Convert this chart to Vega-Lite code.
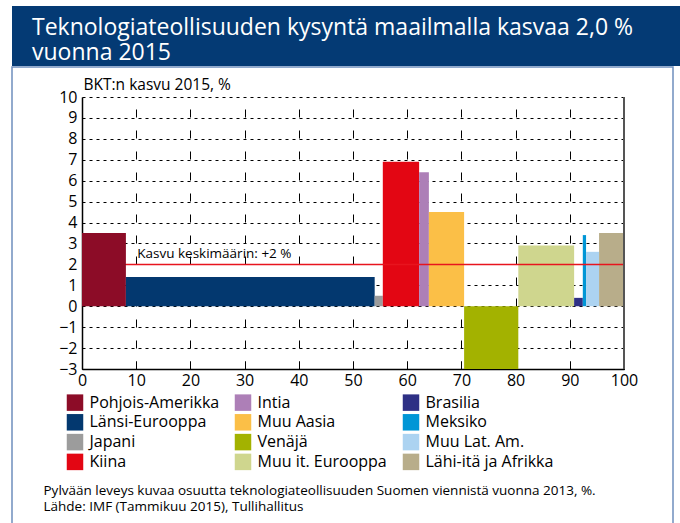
{
  "$schema": "https://vega.github.io/schema/vega-lite/v6.json",
  "padding": {"left": 11, "top": 6, "right": 0, "bottom": 0},
  "background": "white",
  "spacing": 0,
  "config": {"font": "Open Sans", "concat": {"spacing": 0}},
  "datasets": {
    "maat": [
      {"alue": "Pohjois-Amerikka", "alku": 0, "loppu": 8.1, "kasvu": 3.5},
      {"alue": "Länsi-Eurooppa", "alku": 8.1, "loppu": 54.0, "kasvu": 1.4},
      {"alue": "Japani", "alku": 54.0, "loppu": 55.5, "kasvu": 0.5},
      {"alue": "Kiina", "alku": 55.5, "loppu": 62.2, "kasvu": 6.9},
      {"alue": "Intia", "alku": 62.2, "loppu": 64.0, "kasvu": 6.4},
      {"alue": "Muu Aasia", "alku": 64.0, "loppu": 70.5, "kasvu": 4.5},
      {"alue": "Venäjä", "alku": 70.5, "loppu": 80.5, "kasvu": -3.0},
      {"alue": "Muu it. Eurooppa", "alku": 80.5, "loppu": 90.8, "kasvu": 2.9},
      {"alue": "Brasilia", "alku": 90.8, "loppu": 92.4, "kasvu": 0.4},
      {"alue": "Meksiko", "alku": 92.4, "loppu": 93.0, "kasvu": 3.4},
      {"alue": "Muu Lat. Am.", "alku": 93.0, "loppu": 95.4, "kasvu": 2.6},
      {"alue": "Lähi-itä ja Afrikka", "alku": 95.4, "loppu": 100, "kasvu": 3.5}
    ]
  },
  "vconcat": [
    {
      "width": 669,
      "height": 60,
      "view": {"fill": "#043a74", "stroke": null},
      "title": {
        "text": ["Teknologiateollisuuden kysyntä maailmalla kasvaa 2,0 %", "vuonna 2015"],
        "orient": "bottom",
        "anchor": "start",
        "frame": "group",
        "offset": -49,
        "dx": 20,
        "color": "white",
        "fontSize": 23,
        "fontWeight": "normal",
        "lineHeight": 25,
        "font": "Open Sans"
      },
      "data": {"values": []},
      "mark": "point"
    },
    {
      "width": 661,
      "height": 457,
      "view": {"stroke": "#6f8fbd", "strokeWidth": 1.5, "fill": "white"},
      "layer": [
        {
          "data": {"name": "maat"},
          "mark": {"type": "rect"},
          "encoding": {
            "x": {
              "field": "alku",
              "type": "quantitative",
              "scale": {"domain": [0, 100], "range": [70, 612], "nice": false, "zero": false},
              "axis": {
                "orient": "top",
                "offset": -302,
                "tickCount": 10,
                "labelExpr": "datum.value % 10 === 0 ? datum.label : ''",
                "labelFontSize": 16,
                "labelColor": "black",
                "labelPadding": -11,
                "labelBaseline": "top",
                "labelFlush": false,
                "labelOverlap": false,
                "ticks": true,
                "tickSize": 8,
                "tickColor": "black",
                "tickWidth": 1,
                "domain": true,
                "domainColor": "black",
                "domainWidth": 1.5,
                "grid": true,
                "gridWidth": 1,
                "gridDash": [8, 13],
                "gridColor": "black",
                "title": ["Pylvään leveys kuvaa osuutta teknologiateollisuuden Suomen viennistä vuonna 2013, %.", "Lähde: IMF (Tammikuu 2015), Tullihallitus"],
                "titleX": 31,
                "titleY": 114,
                "titleAlign": "left",
                "titleBaseline": "top",
                "titleAnchor": "start",
                "titleFontSize": 13.5,
                "titleFontWeight": "normal",
                "titleColor": "black",
                "titleLineHeight": 16
              }
            },
            "x2": {"field": "loppu"},
            "y": {
              "field": "kasvu",
              "type": "quantitative",
              "scale": {"domain": [-3, 10], "range": [302, 30], "nice": false, "zero": false},
              "axis": {
                "orient": "left",
                "offset": -70,
                "tickCount": 13,
                "labelFontSize": 16,
                "labelColor": "black",
                "labelPadding": 5,
                "labelFlush": false,
                "labelOverlap": false,
                "ticks": false,
                "domain": true,
                "domainColor": "black",
                "domainWidth": 1.5,
                "grid": true,
                "gridColor": "black",
                "gridWidth": 1,
                "gridDash": [3, 4],
                "title": "BKT:n kasvu 2015, %",
                "titleAngle": 0,
                "titleX": 1,
                "titleY": 22,
                "titleAlign": "left",
                "titleBaseline": "alphabetic",
                "titleFontSize": 15.5,
                "titleFontWeight": "normal",
                "titleColor": "black"
              }
            },
            "y2": {"datum": 0},
            "color": {
              "field": "alue",
              "type": "nominal",
              "scale": {
                "domain": ["Pohjois-Amerikka", "Länsi-Eurooppa", "Japani", "Kiina", "Intia", "Muu Aasia", "Venäjä", "Muu it. Eurooppa", "Brasilia", "Meksiko", "Muu Lat. Am.", "Lähi-itä ja Afrikka"],
                "range": ["#8c0c27", "#03386f", "#9c9c9c", "#e30613", "#ad7fb7", "#fbbf47", "#a3b200", "#cfd68e", "#2e3085", "#0096d6", "#acd3f1", "#b8ad8a"]
              },
              "legend": {
                "orient": "none",
                "legendX": 54.5,
                "legendY": 388,
                "columns": 3,
                "title": null,
                "symbolType": "square",
                "symbolSize": 272,
                "symbolStrokeWidth": 0,
                "symbolOpacity": 1,
                "labelFontSize": 16,
                "labelColor": "black",
                "labelOffset": 6,
                "rowPadding": 2.8,
                "columnPadding": 15,
                "labelLimit": 300
              }
            }
          }
        },
        {
          "data": {"values": [{}]},
          "mark": {"type": "rule", "color": "#e8141e", "strokeWidth": 1.5},
          "encoding": {
            "x": {"datum": 8.1},
            "x2": {"datum": 100},
            "y": {"datum": 2}
          }
        },
        {
          "data": {"values": [{}]},
          "mark": {"type": "rule", "color": "#555555", "strokeWidth": 2},
          "encoding": {
            "x": {"datum": 100},
            "y": {"datum": -3},
            "y2": {"datum": 10}
          }
        },
        {
          "data": {"values": [{}]},
          "mark": {"type": "text", "align": "left", "baseline": "alphabetic", "fontSize": 13.5, "color": "black", "font": "Open Sans"},
          "encoding": {
            "x": {"datum": 10.2},
            "y": {"datum": 2.3},
            "text": {"value": "Kasvu keskimäärin: +2 %"}
          }
        }
      ]
    }
  ]
}
